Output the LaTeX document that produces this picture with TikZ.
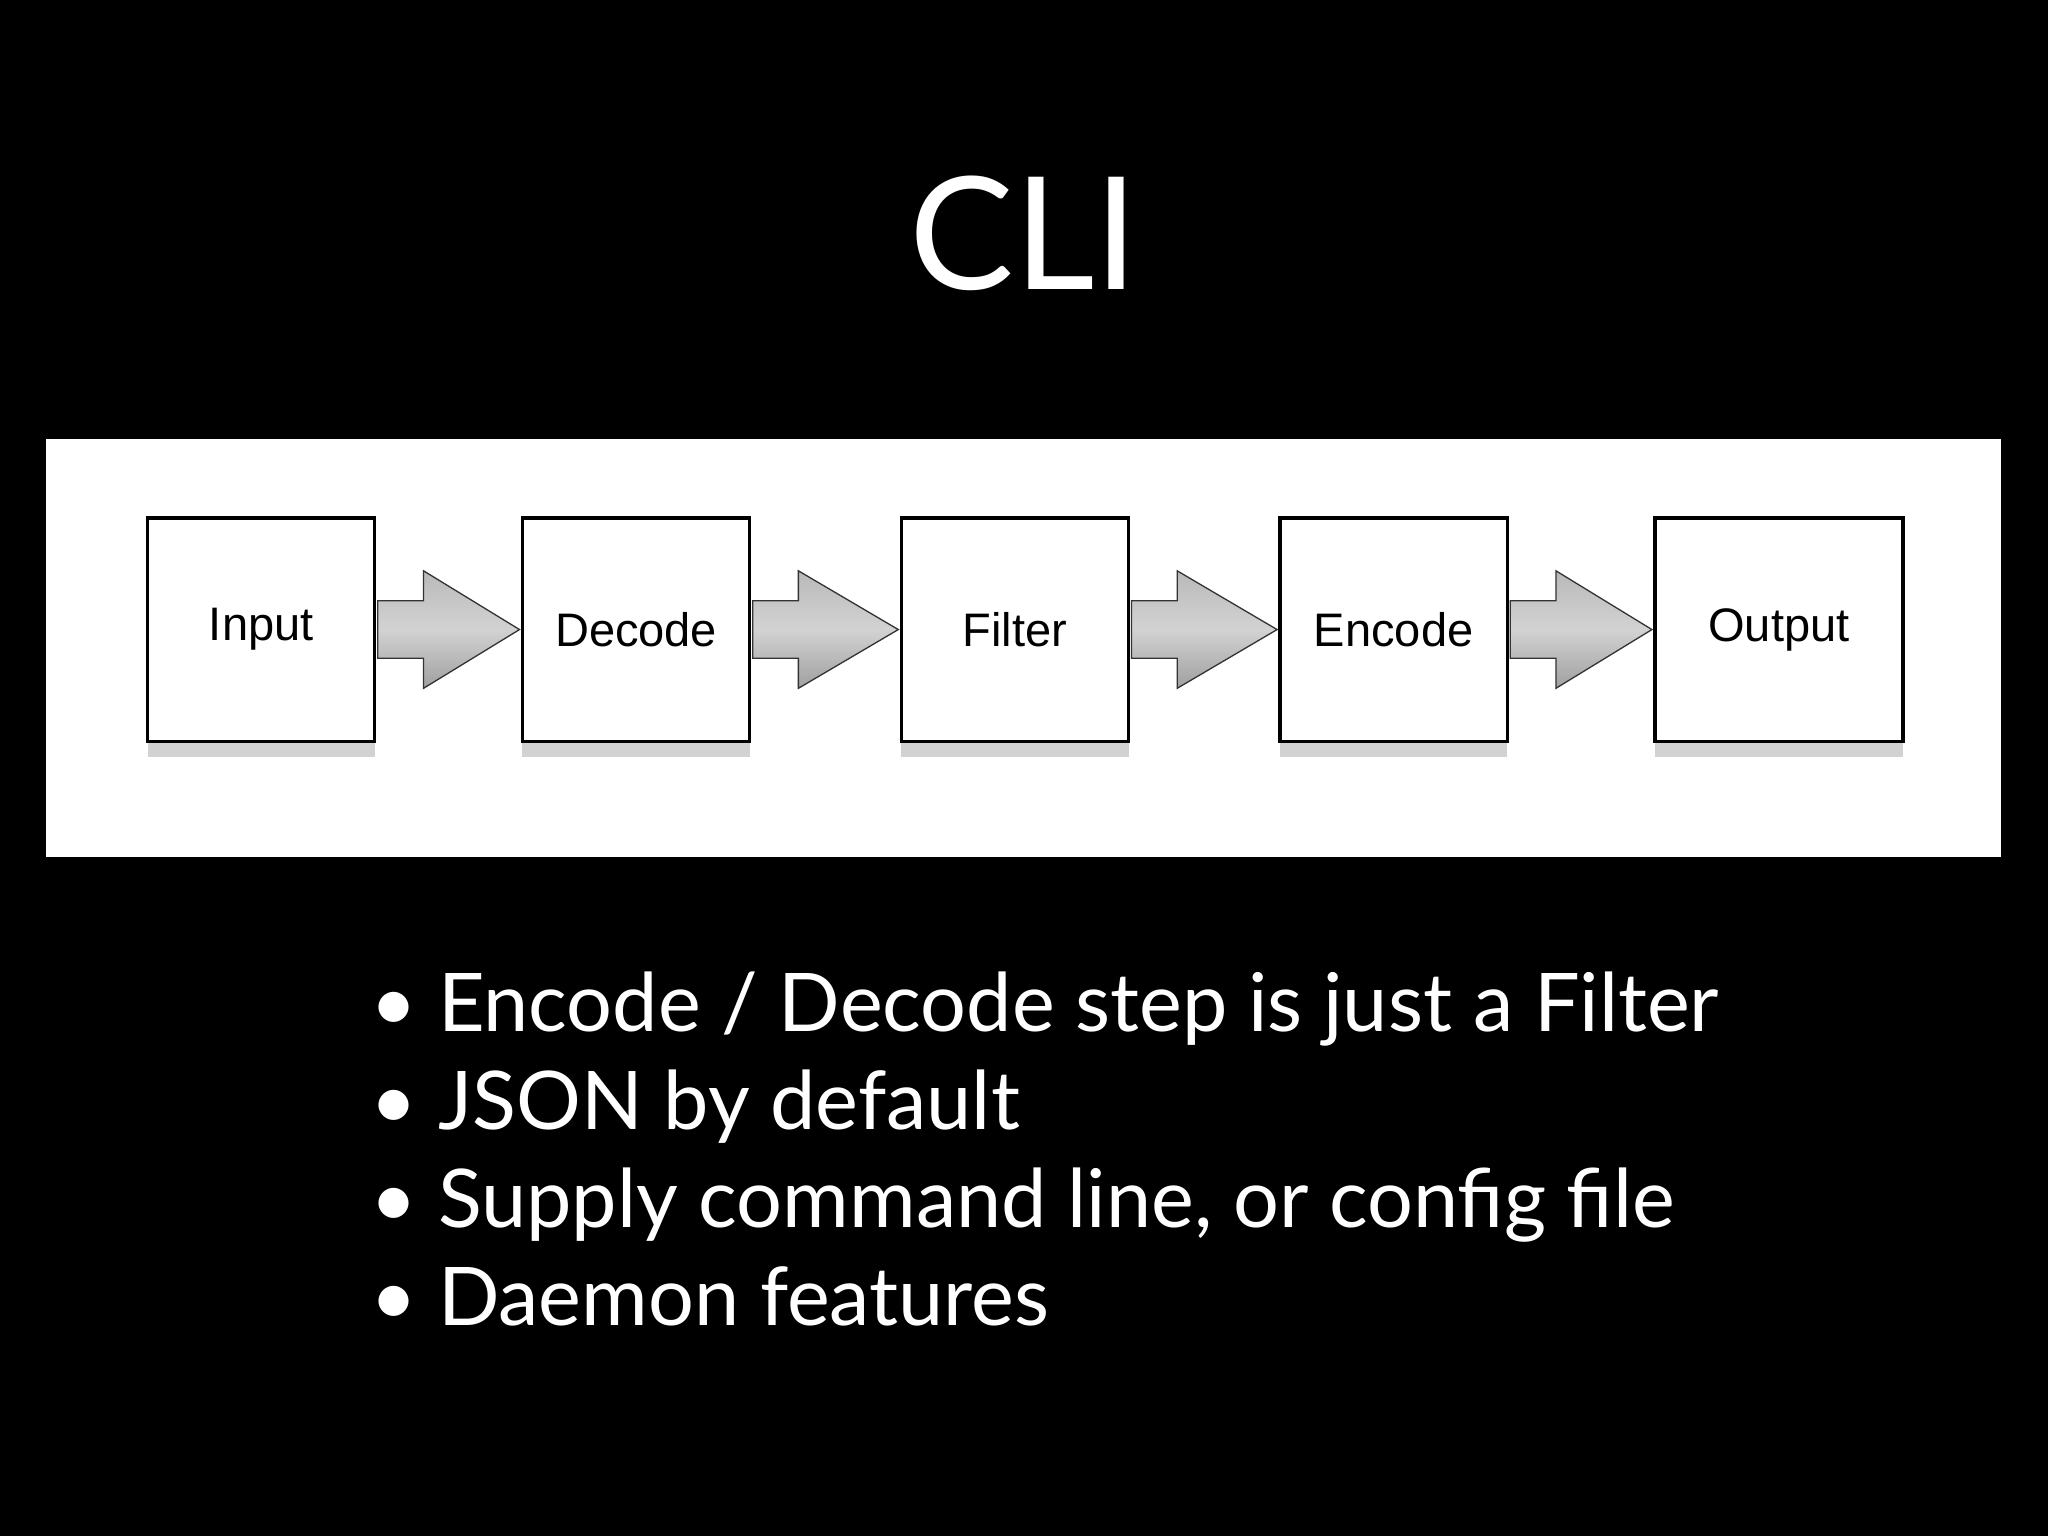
\documentclass[tikz,border=0pt]{standalone}
\usepackage{fontspec}
\setmainfont{Lato}
\newfontfamily\boxfont{Liberation Sans}
\usetikzlibrary{shadows,calc}
\begin{document}
\begin{tikzpicture}[x=1pt,y=-1pt,
  stage/.style={draw=black,line width=2.5pt,fill=white,minimum width=174pt,minimum height=171pt,inner sep=0pt,
    font=\boxfont\fontsize{36}{40}\selectfont,
    drop shadow={shadow xshift=0pt,shadow yshift=-12pt,opacity=0.35,fill=gray}},
  blk/.style={draw=black!80,line width=1pt,top color=gray!55,bottom color=gray!75,middle color=gray!35},
  bul/.style={anchor=base west,text=white,font=\fontsize{62}{70}\selectfont}]
\fill[black] (0,0) rectangle (1568,1176);
\useasboundingbox (0,0) rectangle (1568,1176);
\node[text=white,font=\fontsize{120}{130}\selectfont,anchor=base] (title) at (784,222) {CLI};
\fill[white] (35,336) rectangle (1532,656);
\node[stage] (in) at (200,482) {Input};
\node[stage] (de) at (487,482) {Decode};
\node[stage] (fi) at (777,482) {Filter};
\node[stage] (en) at (1067,482) {Encode};
\node[stage,minimum width=190pt] (out) at (1362,482) {Output};
\foreach \a/\b in {in/de,de/fi,fi/en,en/out}{
  \path[blk] ($(\a.east)+(1,-22)$) -- ++(35,0) -- ++(0,-23) -- ($(\b.west)+(-1,0)$)
    -- ($(\a.east)+(36,45)$) -- ++(0,-23) -- ($(\a.east)+(1,22)$) -- cycle;
}
\node[bul] (b1) at (280,790) {\textbullet\ Encode / Decode step is just a Filter};
\node[bul] (b2) at (280,865) {\textbullet\ JSON by default};
\node[bul] (b3) at (280,940) {\textbullet\ Supply command line, or config file};
\node[bul] (b4) at (280,1015) {\textbullet\ Daemon features};
\end{tikzpicture}
\end{document}
